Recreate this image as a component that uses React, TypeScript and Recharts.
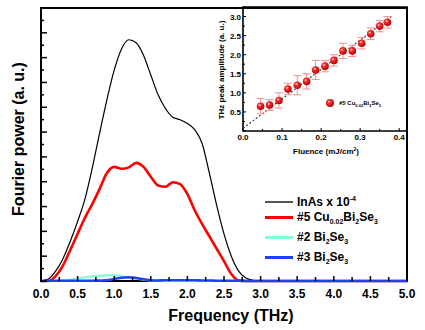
import React from "react";
import {
  LineChart,
  Line,
  XAxis,
  YAxis,
  ReferenceArea,
  ReferenceLine,
  ComposedChart,
  Scatter,
  ErrorBar,
} from "recharts";

const FONT = "'Liberation Sans', Arial, sans-serif";

// main spectra (Fourier power, a.u.)
const freq = [
  0, 0.1, 0.2, 0.3, 0.4, 0.5, 0.6, 0.7, 0.8, 0.9, 1.0, 1.1, 1.2, 1.3, 1.4, 1.5, 1.6, 1.7, 1.8, 1.9,
  2.0, 2.1, 2.2, 2.3, 2.4, 2.5, 2.6, 2.7, 2.8, 2.9, 3.0, 3.5, 4.0, 4.5, 5.0,
];
const inas = [
  0, 0.08, 0.4, 0.9, 1.6, 2.4, 3.3, 4.55, 5.95, 7.3, 8.5, 9.35, 9.72, 9.6, 9.1, 8.3, 7.5, 6.95, 6.6, 6.5,
  6.35, 6.1, 5.55, 4.35, 3.05, 1.9, 1.0, 0.4, 0.12, 0.03, 0, 0, 0, 0, 0,
];
const cuBi2Se3 = [
  0, 0, 0.2, 0.62, 1.25, 1.9, 2.55, 3.1, 3.7, 4.35, 4.6, 4.52, 4.58, 4.76, 4.6, 4.2, 3.85, 3.8, 3.98, 3.9,
  3.5, 2.85, 2.3, 1.8, 1.3, 0.8, 0.28, 0.02, 0, 0, 0, 0, 0, 0, 0,
];
const bi2Se3No2 = [
  0, 0, 0, 0.02, 0.06, 0.1, 0.15, 0.19, 0.21, 0.23, 0.24, 0.2, 0.14, 0.09, 0.05, 0.02, 0.01, 0, 0, 0,
  0, 0, 0, 0, 0, 0, 0, 0, 0, 0, 0, 0, 0, 0, 0,
];
const bi2Se3No3 = [
  0, 0.01, 0.01, 0.01, 0.01, 0.01, 0.01, 0.01, 0.02, 0.03, 0.08, 0.13, 0.15, 0.12, 0.07, 0.03, 0.02, 0.03, 0.03, 0.03,
  0.03, 0.03, 0.02, 0.02, 0.01, 0.01, 0.01, 0.01, 0, 0, 0, 0, 0, 0, 0,
];
const freqTicks = [
  0, 0.25, 0.5, 0.75, 1, 1.25, 1.5, 1.75, 2, 2.25, 2.5, 2.75, 3, 3.25, 3.5, 3.75, 4, 4.25, 4.5, 4.75, 5,
];
const powerTicks = [
  0, 0.5, 1, 1.5, 2, 2.5, 3, 3.5, 4, 4.5, 5, 5.5, 6, 6.5, 7, 7.5, 8, 8.5, 9, 9.5, 10, 10.5, 11,
];

// inset: peak amplitude vs fluence
const fluence = [0.045, 0.068, 0.092, 0.115, 0.139, 0.163, 0.186, 0.21, 0.233, 0.256, 0.28, 0.304, 0.327, 0.35, 0.37];
const amplitude = [0.65, 0.68, 0.8, 1.1, 1.2, 1.3, 1.6, 1.7, 1.85, 2.1, 2.1, 2.3, 2.55, 2.75, 2.85];
const amplitudeErr = [0.2, 0.14, 0.2, 0.15, 0.25, 0.2, 0.25, 0.15, 0.15, 0.2, 0.15, 0.15, 0.15, 0.15, 0.15];
const fitFluence = [0, 0.38];
const fitAmplitude = [0.07, 3.0];
const fluenceTicks = [0, 0.05, 0.1, 0.15, 0.2, 0.25, 0.3, 0.35, 0.4];
const amplitudeTicks = [0, 0.25, 0.5, 0.75, 1, 1.25, 1.5, 1.75, 2, 2.25, 2.5, 2.75, 3, 3.25];

const mainData = freq.map((f, i) => ({
  f,
  inas: inas[i],
  cu: cuBi2Se3[i],
  bi2: bi2Se3No2[i],
  bi3: bi2Se3No3[i],
}));
const insetPoints = fluence.map((x, i) => ({ x, y: amplitude[i], err: amplitudeErr[i] }));
const fitSegment = fitFluence.map((x, i) => ({ x, y: fitAmplitude[i] }));

const isStep = (v: number, step: number) => Math.abs(v / step - Math.round(v / step)) < 1e-6;

function FreqTick({ x, y, payload }: any) {
  const v = payload.value;
  const major = isStep(v, 0.5);
  return (
    <g>
      <line x1={x} x2={x} y1={y} y2={y - (major ? 5 : 4)} stroke="#000" strokeWidth={1.5} />
      {major && (
        <text x={x} y={y + 17} textAnchor="middle" fontFamily={FONT} fontWeight="bold" fontSize={12} fill="#000">
          {v.toFixed(1)}
        </text>
      )}
    </g>
  );
}

function PowerTick({ x, y, payload }: any) {
  const major = isStep(payload.value, 1);
  return <line x1={x} x2={x + (major ? 6 : 3)} y1={y} y2={y} stroke="#000" strokeWidth={1.5} />;
}

function FluenceTick({ x, y, payload }: any) {
  const v = payload.value;
  const major = isStep(v, 0.1);
  return (
    <g>
      <line x1={x} x2={x} y1={y} y2={y - (major ? 3 : 2)} stroke="#000" strokeWidth={1} />
      {major && (
        <text x={x} y={y + 9} textAnchor="middle" fontFamily={FONT} fontWeight="bold" fontSize={8} fill="#000">
          {v.toFixed(1)}
        </text>
      )}
    </g>
  );
}

function AmplitudeTick({ x, y, payload }: any) {
  const v = payload.value;
  const major = isStep(v, 0.5);
  return (
    <g>
      <line x1={x} x2={x + (major ? 3 : 2)} y1={y} y2={y} stroke="#000" strokeWidth={1} />
      {major && v > 0 && (
        <text x={x - 2} y={y + 3} textAnchor="end" fontFamily={FONT} fontWeight="bold" fontSize={8} fill="#000">
          {v.toFixed(1)}
        </text>
      )}
    </g>
  );
}

const Ball = ({ cx, cy, r = 4 }: any) => <circle cx={cx} cy={cy} r={r} fill="url(#ball)" />;

const sub = (t: string, size = 7, top = 3) => (
  <span style={{ fontSize: size, position: "relative", top }}>{t}</span>
);

const legendRows = [
  { color: "#555", w: 1.5, y: 202, label: <>InAs x 10{sub("-4", 7, -5)}</> },
  { color: "#ff0000", w: 3, y: 217, label: <>#5 Cu{sub("0.02")}Bi{sub("2")}Se{sub("3")}</> },
  { color: "#7fffd4", w: 3, y: 237, label: <>#2 Bi{sub("2")}Se{sub("3")}</> },
  { color: "#2040ff", w: 3, y: 257, label: <>#3 Bi{sub("2")}Se{sub("3")}</> },
];

export default function App() {
  return (
    <div
      style={{
        position: "absolute",
        left: 0,
        top: 0,
        width: 425,
        height: 330,
        background: "#fff",
        fontFamily: FONT,
        color: "#000",
      }}
    >
      <svg width={0} height={0} style={{ position: "absolute" }}>
        <defs>
          <radialGradient id="ball" cx="38%" cy="35%" r="65%">
            <stop offset="0%" stopColor="#fff0f0" />
            <stop offset="30%" stopColor="#ff3030" />
            <stop offset="100%" stopColor="#b00000" />
          </radialGradient>
        </defs>
      </svg>

      <div style={{ position: "absolute", left: 0, top: 0 }}>
        <LineChart width={425} height={330} data={mainData} margin={{ top: 8, right: 18, bottom: 48, left: 40 }}>
          <XAxis
            dataKey="f"
            type="number"
            domain={[0, 5]}
            ticks={freqTicks}
            interval={0}
            height={1}
            tickSize={0}
            tickMargin={0}
            tickLine={false}
            axisLine={false}
            tick={(p: any) => <FreqTick {...p} />}
          />
          <YAxis
            type="number"
            domain={[0, 11]}
            ticks={powerTicks}
            interval={0}
            width={1}
            tickSize={0}
            tickMargin={0}
            tickLine={false}
            axisLine={false}
            tick={(p: any) => <PowerTick {...p} />}
          />
          <ReferenceArea x1={0} x2={5} y1={0} y2={11} fill="none" stroke="#000" strokeWidth={2} ifOverflow="visible" />
          <Line dataKey="inas" type="monotone" stroke="#000" strokeWidth={1.2} dot={false} isAnimationActive={false} />
          <Line dataKey="cu" type="monotone" stroke="#ff0000" strokeWidth={2.6} dot={false} isAnimationActive={false} />
          <Line dataKey="bi2" type="monotone" stroke="#7fffd4" strokeWidth={2.2} dot={false} isAnimationActive={false} />
          <Line dataKey="bi3" type="monotone" stroke="#2040ff" strokeWidth={2.6} dot={false} isAnimationActive={false} />
        </LineChart>
      </div>

      <div style={{ position: "absolute", left: 200, top: 0 }}>
        <ComposedChart width={225} height={160} margin={{ top: 7, right: 18, bottom: 28, left: 42 }}>
          <XAxis
            dataKey="x"
            type="number"
            domain={[0, 0.42]}
            ticks={fluenceTicks}
            interval={0}
            height={1}
            tickSize={0}
            tickMargin={0}
            tickLine={false}
            axisLine={false}
            tick={(p: any) => <FluenceTick {...p} />}
          />
          <YAxis
            dataKey="y"
            type="number"
            domain={[0, 3.25]}
            ticks={amplitudeTicks}
            interval={0}
            width={1}
            tickSize={0}
            tickMargin={0}
            tickLine={false}
            axisLine={false}
            tick={(p: any) => <AmplitudeTick {...p} />}
          />
          <ReferenceArea x1={0} x2={0.42} y1={0} y2={3.25} fill="none" stroke="#000" strokeWidth={1.6} ifOverflow="visible" />
          <ReferenceLine
            segment={fitSegment}
            stroke="#333"
            strokeWidth={1.1}
            strokeDasharray="2 2"
            ifOverflow="visible"
          />
          <Scatter data={insetPoints} dataKey="y" shape={(p: any) => <Ball {...p} r={3.8} />} isAnimationActive={false}>
            <ErrorBar dataKey="err" direction="y" width={4} stroke="#f39090" strokeWidth={1} />
          </Scatter>
        </ComposedChart>
      </div>

      {/* axis titles */}
      <div
        style={{
          position: "absolute",
          left: 231,
          top: 316,
          transform: "translate(-50%, -50%)",
          fontSize: 16,
          fontWeight: "bold",
          whiteSpace: "nowrap",
        }}
      >
        Frequency (THz)
      </div>
      <div
        style={{
          position: "absolute",
          left: 19,
          top: 139,
          transform: "translate(-50%, -50%) rotate(-90deg)",
          fontSize: 16,
          fontWeight: "bold",
          whiteSpace: "nowrap",
        }}
      >
        Fourier power (a. u.)
      </div>
      <div
        style={{
          position: "absolute",
          left: 326,
          top: 151,
          transform: "translate(-50%, -50%)",
          fontSize: 8,
          fontWeight: "bold",
          whiteSpace: "nowrap",
        }}
      >
        Fluence (mJ/cm{sub("2", 5, -3)})
      </div>
      <div
        style={{
          position: "absolute",
          left: 221,
          top: 70,
          transform: "translate(-50%, -50%) rotate(-90deg)",
          fontSize: 8,
          fontWeight: "bold",
          whiteSpace: "nowrap",
        }}
      >
        THz peak amplitude (a. u.)
      </div>

      {/* inset legend */}
      <svg style={{ position: "absolute", left: 325, top: 98 }} width={10} height={10}>
        <Ball cx={5} cy={5} r={4} />
      </svg>
      <div
        style={{
          position: "absolute",
          left: 339,
          top: 99,
          fontSize: 6,
          lineHeight: "8px",
          fontWeight: "bold",
          whiteSpace: "nowrap",
        }}
      >
        #5 Cu{sub("0.02", 4, 2)}Bi{sub("2", 4, 2)}Se{sub("3", 4, 2)}
      </div>

      {/* main legend */}
      {legendRows.map((r, i) => (
        <React.Fragment key={i}>
          <div
            style={{
              position: "absolute",
              left: 265,
              top: r.y - r.w / 2,
              width: 28,
              height: r.w,
              background: r.color,
            }}
          />
          <div
            style={{
              position: "absolute",
              left: 297,
              top: r.y - 8,
              fontSize: 12,
              lineHeight: "16px",
              fontWeight: "bold",
              whiteSpace: "nowrap",
            }}
          >
            {r.label}
          </div>
        </React.Fragment>
      ))}
    </div>
  );
}
